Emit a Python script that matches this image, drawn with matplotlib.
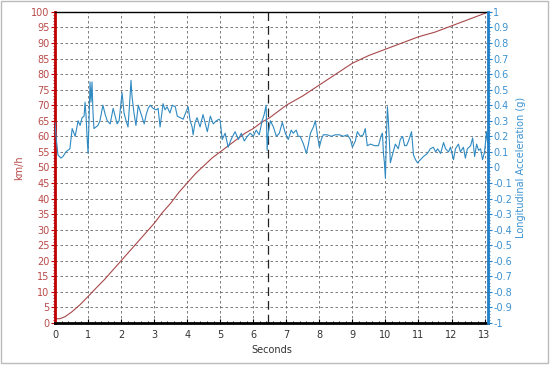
import matplotlib
matplotlib.use("Agg")
import matplotlib.pyplot as plt
from matplotlib.ticker import MultipleLocator
from matplotlib.patches import Rectangle

# ── Data ──────────────────────────────────────────────────────────────────────
speed_t = [0.0, 0.15, 0.3, 0.5, 0.75, 1.0, 1.25, 1.5, 1.75, 2.0, 2.25, 2.5, 2.75,
           3.0, 3.25, 3.5, 3.75, 4.0, 4.25, 4.5, 4.75, 5.0, 5.25, 5.5, 5.75, 6.0,
           6.25, 6.5, 6.75, 7.0, 7.5, 8.0, 8.5, 9.0, 9.5, 10.0, 10.5, 11.0, 11.5,
           12.0, 12.5, 13.0, 13.1]
speed_kmh = [1.3, 1.4, 2.0, 3.5, 5.8, 8.5, 11.3, 14.0, 17.0, 20.0, 23.0, 26.0, 29.0,
             32.0, 35.5, 38.5, 42.0, 45.0, 48.0, 50.5, 53.0, 55.0, 57.0, 59.0, 61.0, 62.5,
             64.5, 66.0, 68.0, 70.0, 73.0, 76.5, 80.0, 83.5, 86.0, 88.0, 90.0, 92.0, 93.5,
             95.5, 97.5, 99.5, 100.0]

accel_t = [0.00, 0.03, 0.09, 0.18, 0.24, 0.33, 0.39, 0.45, 0.52, 0.61, 0.70, 0.76,
           0.82, 0.88, 0.91, 0.94, 0.97, 1.00, 1.03, 1.06, 1.09, 1.12, 1.15, 1.18,
           1.24, 1.30, 1.36, 1.45, 1.52, 1.58, 1.67, 1.76, 1.82, 1.88, 1.94, 2.00,
           2.03, 2.09, 2.15, 2.21, 2.27, 2.30, 2.33, 2.39, 2.45, 2.52, 2.58, 2.64,
           2.70, 2.76, 2.82, 2.88, 2.97, 3.06, 3.12, 3.18, 3.27, 3.33, 3.39, 3.48,
           3.55, 3.64, 3.70, 3.79, 3.88, 3.97, 4.03, 4.09, 4.15, 4.18, 4.24, 4.30,
           4.39, 4.48, 4.55, 4.61, 4.70, 4.79, 4.88, 4.97, 5.00, 5.06, 5.15, 5.24,
           5.33, 5.45, 5.55, 5.64, 5.73, 5.82, 5.91, 6.00, 6.09, 6.18, 6.27, 6.33,
           6.39, 6.42, 6.45, 6.52, 6.61, 6.70, 6.79, 6.88, 6.97, 7.06, 7.15, 7.21,
           7.30, 7.36, 7.42, 7.52, 7.61, 7.67, 7.73, 7.82, 7.88, 7.94, 8.00, 8.06,
           8.12, 8.24, 8.36, 8.48, 8.61, 8.73, 8.85, 8.94, 9.00, 9.09, 9.15, 9.24,
           9.33, 9.39, 9.45, 9.55, 9.67, 9.79, 9.88, 9.91, 9.94, 9.97, 10.00, 10.03,
           10.06, 10.09, 10.15, 10.21, 10.30, 10.39, 10.45, 10.52, 10.58, 10.64, 10.70,
           10.79, 10.85, 10.91, 10.97, 11.06, 11.15, 11.27, 11.36, 11.45, 11.52, 11.58,
           11.67, 11.76, 11.82, 11.91, 11.97, 12.06, 12.12, 12.21, 12.27, 12.36, 12.42,
           12.48, 12.58, 12.64, 12.70, 12.76, 12.82, 12.88, 12.94, 13.00, 13.06, 13.09]
accel_g = [0.29, 0.20, 0.08, 0.06, 0.07, 0.10, 0.11, 0.12, 0.25, 0.20, 0.30, 0.27,
           0.32, 0.33, 0.42, 0.33, 0.20, 0.09, 0.30, 0.55, 0.42, 0.55, 0.35, 0.25,
           0.26, 0.27, 0.30, 0.40, 0.34, 0.30, 0.28, 0.38, 0.33, 0.28, 0.30, 0.42,
           0.48, 0.35, 0.30, 0.26, 0.45, 0.56, 0.46, 0.35, 0.27, 0.40, 0.36, 0.32,
           0.28, 0.34, 0.38, 0.40, 0.38, 0.37, 0.38, 0.26, 0.41, 0.37, 0.39, 0.35,
           0.40, 0.39, 0.33, 0.32, 0.31, 0.36, 0.39, 0.30, 0.26, 0.21, 0.29, 0.32,
           0.26, 0.34, 0.28, 0.23, 0.33, 0.28, 0.30, 0.31, 0.30, 0.18, 0.22, 0.13,
           0.18, 0.23, 0.18, 0.22, 0.17, 0.20, 0.22, 0.20, 0.24, 0.21, 0.30, 0.34,
           0.40, 0.11, 0.22, 0.30, 0.26, 0.20, 0.22, 0.29, 0.22, 0.18, 0.24, 0.22,
           0.24, 0.20, 0.20, 0.15, 0.09, 0.15, 0.22, 0.26, 0.30, 0.21, 0.13, 0.18,
           0.21, 0.21, 0.20, 0.21, 0.21, 0.20, 0.21, 0.18, 0.13, 0.17, 0.23, 0.20,
           0.21, 0.25, 0.14, 0.15, 0.14, 0.14, 0.21, 0.22, 0.09, 0.03, -0.07, 0.20,
           0.39, 0.30, 0.03, 0.08, 0.15, 0.12, 0.18, 0.20, 0.14, 0.14, 0.17,
           0.23, 0.08, 0.05, 0.03, 0.05, 0.07, 0.09, 0.12, 0.13, 0.10, 0.12,
           0.09, 0.16, 0.12, 0.10, 0.13, 0.05, 0.12, 0.15, 0.10, 0.13, 0.06,
           0.12, 0.14, 0.19, 0.07, 0.15, 0.11, 0.12, 0.05, 0.10, 0.23, 0.16]

MARKER_T = 6.45

RED = "#c00000"
RED_TXT = "#b84a4a"
BLUE = "#1f7fc8"
BLUE_TXT = "#3d92d0"

# ── Figure ────────────────────────────────────────────────────────────────────
fig = plt.figure(figsize=(5.5, 3.66), dpi=100)
ax = fig.add_axes([0.1, 0.1175, 0.787, 0.85])

ax.plot(speed_t, speed_kmh, color="#a8484a", linewidth=0.8)
ax.set_xlim(0, 13.1)
ax.set_ylim(0, 100)
ax.xaxis.set_major_locator(MultipleLocator(1))
ax.xaxis.set_minor_locator(MultipleLocator(0.2))
ax.yaxis.set_major_locator(MultipleLocator(5))
ax.yaxis.set_minor_locator(MultipleLocator(1))
ax.grid(True, which="major", color="#666666", linestyle=(0, (3, 3)), linewidth=0.6)
ax.axvline(MARKER_T, color="#222222", linestyle=(0, (7, 4)), linewidth=0.9)

ax.tick_params(axis="y", which="major", colors=RED, labelcolor=RED_TXT,
               labelsize=7, length=3, width=0.8, pad=1)
ax.tick_params(axis="y", which="minor", colors=RED, length=1.5, width=0.6)
ax.tick_params(axis="x", which="major", direction="in", labelsize=7, length=3,
               width=0.8, labelcolor="#333333", pad=5)
ax.tick_params(axis="x", which="minor", direction="in", length=1.5, width=0.6)

ax.spines["left"].set_color(RED)
ax.spines["left"].set_linewidth(2)
ax.spines["bottom"].set_linewidth(2)
ax.spines["top"].set_linewidth(1)
ax.spines["right"].set_visible(False)

ax.set_ylabel("km/h", color=RED_TXT, fontsize=7, labelpad=5)
ax.set_xlabel("Seconds", color="#333333", fontsize=7, labelpad=4)

ax2 = ax.twinx()
ax2.plot(accel_t, accel_g, color="#2f8ac2", linewidth=0.8)
ax2.set_ylim(-1, 1)
ax2.yaxis.set_minor_locator(MultipleLocator(0.02))
ax2.set_yticks([round(-1 + 0.1 * i, 1) for i in range(21)])
ax2.set_yticklabels([("%g" % round(-1 + 0.1 * i, 1)) for i in range(21)])
ax2.tick_params(axis="y", which="major", colors=BLUE, labelcolor=BLUE_TXT,
                labelsize=7, length=3, width=0.8, pad=1)
ax2.tick_params(axis="y", which="minor", colors=BLUE, length=1.5, width=0.6)
for s in ("left", "top", "bottom"):
    ax2.spines[s].set_visible(False)
ax2.spines["right"].set_color(BLUE)
ax2.spines["right"].set_linewidth(2)
ax2.set_ylabel("Longitudinal Acceleration (g)", color=BLUE_TXT, fontsize=7,
               labelpad=3)

# light grey frame around the picture
fig.patches.append(Rectangle((0.001, 0.008), 0.995, 0.99, transform=fig.transFigure,
                             fill=False, edgecolor="#bbbbbb", linewidth=1))

fig.savefig("out.png", dpi=100)
